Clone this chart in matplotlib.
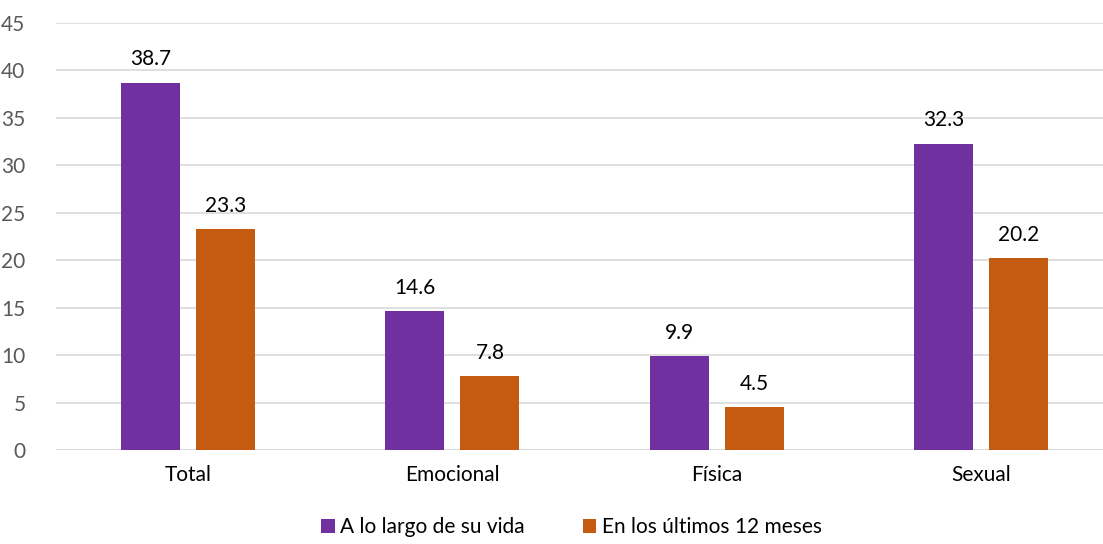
import matplotlib
matplotlib.use("Agg")
import matplotlib.pyplot as plt
import numpy as np

plt.rcParams['font.family'] = ['Lato', 'DejaVu Sans']

categorias = ["Total", "Emocional", "Física", "Sexual"]
vida = [38.7, 14.6, 9.9, 32.3]
ultimos = [23.3, 7.8, 4.5, 20.2]
series = ["A lo largo de su vida", "En los últimos 12 meses"]
colores = ["#7030A0", "#C55A11"]

fig = plt.figure(figsize=(11.03, 5.44), dpi=100)
ax = fig.add_axes([56/1103, 94/544, 1057/1103, 427/544])

x = np.arange(len(categorias))
ancho = 0.223
off = 0.142
b1 = ax.bar(x - off, vida, ancho, color=colores[0], label=series[0], zorder=3)
b2 = ax.bar(x + off, ultimos, ancho, color=colores[1], label=series[1], zorder=3)

for barras in (b1, b2):
    for b in barras:
        ax.text(b.get_x() + b.get_width()/2, b.get_height() + 1.4, f"{b.get_height():.1f}",
                ha="center", va="bottom", fontsize=15, color="black")

ax.set_ylim(0, 45)
ax.set_xlim(-0.5, 3.5)
ax.set_yticks(range(0, 46, 5))
ax.set_xticks(x)
ax.set_xticklabels(categorias, fontsize=15, color="black")
ax.tick_params(axis="y", labelsize=15, labelcolor="#595959", length=0, pad=22)
ax.tick_params(axis="x", length=0, pad=11)
ax.yaxis.grid(True, color="#D9D9D9", linewidth=1.2, zorder=0)
for s in ax.spines.values():
    s.set_visible(False)
ax.axhline(0, color="#D9D9D9", linewidth=1.2, zorder=1)

fig.legend(handles=[b1, b2], labels=series, loc="lower center", ncol=2, frameon=False,
           fontsize=15, bbox_to_anchor=(0.518, -0.022), handlelength=0.65, handleheight=0.65,
           handletextpad=0.25, columnspacing=2.8)

fig.savefig("out.png", dpi=100)
